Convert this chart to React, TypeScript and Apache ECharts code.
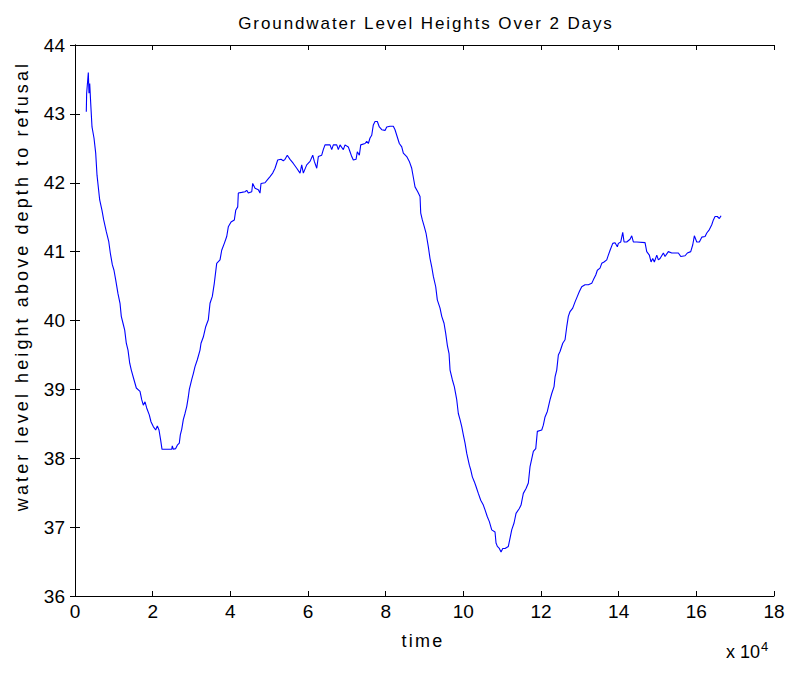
import React, { useEffect, useRef } from "react";
import * as echarts from "echarts";

const title = "Groundwater Level Heights Over 2 Days";
const xAxisName = "time";
const yAxisName = "water level height above depth to refusal";
const xTicks = [0, 20000, 40000, 60000, 80000, 100000, 120000, 140000, 160000, 180000];
const yTicks = [36, 37, 38, 39, 40, 41, 42, 43, 44];

const time = [
  2910, 3000, 3430, 3600, 3790, 4040, 4380, 4890, 5330, 5670, 6360, 6950, 7390, 8060, 8680, 9090, 9610,
  10040, 10480, 11070, 11590, 11920, 12360, 12800, 13210, 13650, 14090, 14500, 15190, 15790, 16740,
  17180, 17590, 18030, 18460, 19130, 19570, 20160, 20780, 21200, 21630, 22070, 22410, 24900, 25060,
  25320, 25930, 26350, 26860, 27120, 27480, 27890, 28330, 28770, 29180, 29440, 30050, 30470, 30900,
  31500, 32190, 32450, 33040, 33660, 34330, 34770, 35360, 35870, 36490, 37340, 37780, 38450, 39070,
  39480, 40180, 41030, 41390, 41900, 42060, 42930, 43780, 44220, 44630, 45510, 45760, 46360, 47210,
  47640, 47900, 48930, 49630, 50220, 50910, 51510, 52200, 53050, 53640, 54080, 54670, 55370, 56220,
  57100, 57950, 58380, 58800, 59670, 60520, 61220, 61630, 62250, 62660, 63530, 63940, 64380, 65670,
  66110, 66520, 67400, 67810, 68250, 69100, 69530, 70380, 70820, 71260, 71670, 72370, 72700, 73220,
  73580, 74690, 75120, 75540, 75970, 76410, 76820, 77260, 77850, 78370, 78990, 79840, 80270, 81120,
  81970, 82410, 82850, 83520, 84140, 84550, 85420, 86090, 86710, 87120, 87560, 88260, 88850, 89030,
  89440, 89960, 90390, 90990, 91420, 91860, 92280, 92890, 93300, 94000, 94440, 95030, 95470, 95880,
  96320, 96580, 97170, 97680, 98300, 98710, 99150, 99590, 100000, 100440, 100880, 101550, 101910,
  102320, 102830, 103270, 103860, 104480, 105150, 105590, 106180, 106700, 107310, 108160, 108420,
  108760, 109270, 109710, 110150, 110740, 111590, 112030, 112460, 113060, 113570, 114420, 114860,
  115450, 116150, 116740, 117180, 118030, 118650, 119060, 120190, 120600, 121040, 121630, 122330,
  122770, 123360, 123620, 124050, 124470, 124900, 125600, 126190, 126630, 127040, 127480, 128170,
  128770, 129360, 129880, 130490, 131340, 132190, 133070, 133480, 134100, 134510, 135200, 135640,
  136230, 136930, 137340, 137790, 138480, 139070, 139660, 139920, 140540, 141050, 141390, 142080,
  142930, 143370, 143780, 144660, 146790, 147230, 147900, 148340, 148770, 149190, 149810, 150220,
  150660, 151510, 151940, 152790, 153670, 155370, 155990, 157100, 157690, 158560, 159080, 159490,
  160110, 160780, 161400, 162250, 162690, 163360, 163970, 164390, 164820, 165410, 165930, 166370,
];

const level = [
  43.03, 43.3, 43.6, 43.3, 43.44, 43.16, 42.81, 42.65, 42.43, 42.11, 41.75, 41.6, 41.46, 41.29, 41.15, 40.98, 40.81,
  40.73, 40.59, 40.39, 40.25, 40.06, 39.96, 39.86, 39.67, 39.57, 39.38, 39.28, 39.14, 39.02, 38.97,
  38.85, 38.77, 38.82, 38.73, 38.63, 38.53, 38.46, 38.41, 38.47, 38.41, 38.26, 38.13, 38.13, 38.18,
  38.13, 38.14, 38.19, 38.22, 38.34, 38.42, 38.56, 38.65, 38.75, 38.89, 39.0, 39.14, 39.23, 39.33,
  39.43, 39.57, 39.67, 39.76, 39.91, 40.01, 40.25, 40.35, 40.54, 40.83, 40.88, 41.02, 41.12, 41.22,
  41.36, 41.43, 41.46, 41.6, 41.65, 41.85, 41.86, 41.87, 41.89, 41.85, 41.87, 41.99, 41.92, 41.9,
  41.85, 41.99, 42.0, 42.05, 42.09, 42.14, 42.21, 42.33, 42.34, 42.32, 42.34, 42.4, 42.34, 42.28,
  42.21, 42.14, 42.26, 42.14, 42.26, 42.31, 42.4, 42.31, 42.21, 42.38, 42.4, 42.48, 42.55, 42.55,
  42.48, 42.55, 42.55, 42.48, 42.55, 42.48, 42.55, 42.52, 42.45, 42.38, 42.33, 42.34, 42.45, 42.4,
  42.55, 42.57, 42.6, 42.57, 42.65, 42.69, 42.84, 42.89, 42.89, 42.81, 42.77, 42.76, 42.81, 42.82,
  42.82, 42.77, 42.69, 42.57, 42.52, 42.43, 42.38, 42.31, 42.21, 42.08, 41.94, 41.87, 41.8, 41.56,
  41.46, 41.36, 41.27, 41.07, 40.9, 40.78, 40.64, 40.49, 40.3, 40.18, 40.06, 39.96, 39.81, 39.64,
  39.52, 39.28, 39.14, 39.04, 38.85, 38.65, 38.56, 38.46, 38.34, 38.22, 38.07, 37.9, 37.83,
  37.73, 37.66, 37.59, 37.49, 37.39, 37.32, 37.25, 37.15, 37.08, 36.96, 36.93, 36.77,
  36.72, 36.69, 36.64, 36.69, 36.69, 36.72, 36.84, 36.96, 37.06, 37.2, 37.27, 37.32,
  37.49, 37.56, 37.64, 37.88, 38.1, 38.14, 38.39, 38.41, 38.48, 38.6, 38.68, 38.85,
  38.94, 39.04, 39.18, 39.28, 39.5, 39.55, 39.67, 39.72, 39.91, 40.06, 40.13, 40.18,
  40.27, 40.35, 40.42, 40.49, 40.52, 40.52, 40.54, 40.59, 40.66, 40.73, 40.76, 40.83,
  40.85, 40.88, 40.95, 41.02, 41.12, 41.13, 41.07, 41.12, 41.14, 41.28, 41.14, 41.14,
  41.18, 41.23, 41.14, 41.14, 41.13, 41.0, 40.95, 40.85, 40.9, 40.85, 40.95, 40.88,
  40.9, 40.98, 40.93, 41.0, 40.98, 40.98, 40.93, 40.94, 40.98, 41.0, 41.1, 41.23,
  41.14, 41.14, 41.21, 41.22, 41.27, 41.32, 41.39, 41.46, 41.51, 41.51, 41.48, 41.52,
];

const FONT = "Liberation Sans, Arial, sans-serif";

const spacing: Record<string, number> = {
  [title]: 1.9,
  [yAxisName]: 3.1,
  [xAxisName]: 2.2,
};

function applySpacing(root: HTMLElement | null) {
  if (!root) return;
  root.querySelectorAll("text").forEach((el) => {
    const s = spacing[el.textContent || ""];
    if (s) el.setAttribute("letter-spacing", String(s));
  });
}

export default function App() {
  const ref = useRef<HTMLDivElement>(null);
  useEffect(() => {
    if (!ref.current) return;
    const chart = echarts.init(ref.current, null, { renderer: "svg" });
    const data = time.map((t, i) => [t, level[i]]);
    const axisCommon = {
      axisLine: { show: true, lineStyle: { color: "#000", width: 1 } },
      axisTick: { show: true, inside: true, length: 5, lineStyle: { color: "#000" } },
      splitLine: { show: false },
    };
    chart.on("finished", () => applySpacing(ref.current));
    chart.setOption({
      animation: false,
      backgroundColor: "#fff",
      title: {
        text: title,
        left: 421,
        top: 10,
        textAlign: "center",
        textStyle: { fontFamily: FONT, fontSize: 17, fontWeight: "normal", color: "#000" },
      },
      grid: { left: 75, top: 45, width: 699, height: 551, containLabel: false, outerBoundsMode: "none" },
      xAxis: [
        {
          type: "value",
          min: xTicks[0],
          max: xTicks[xTicks.length - 1],
          interval: xTicks[1] - xTicks[0],
          position: "bottom",
          ...axisCommon,
          axisLabel: {
            color: "#000",
            fontFamily: FONT,
            fontSize: 19,
            margin: 6,
            formatter: (v: number) => String(v / 10000),
          },
          name: xAxisName,
          nameLocation: "middle",
          nameGap: 36,
          nameTextStyle: { color: "#000", fontFamily: FONT, fontSize: 18, padding: [0, 3, 0, 0] },
        },
        {
          type: "value",
          min: xTicks[0],
          max: xTicks[xTicks.length - 1],
          interval: xTicks[1] - xTicks[0],
          position: "top",
          ...axisCommon,
          axisLabel: { show: false },
        },
      ],
      yAxis: [
        {
          type: "value",
          min: yTicks[0],
          max: yTicks[yTicks.length - 1],
          interval: 1,
          position: "left",
          ...axisCommon,
          axisLabel: { color: "#000", fontFamily: FONT, fontSize: 19, margin: 10 },
        },
        {
          type: "value",
          min: yTicks[0],
          max: yTicks[yTicks.length - 1],
          interval: 1,
          position: "right",
          ...axisCommon,
          axisLabel: { show: false },
        },
      ],
      graphic: [
        {
          type: "text",
          x: 22,
          y: 286,
          rotation: Math.PI / 2,
          style: {
            text: yAxisName,
            fontFamily: FONT,
            fontSize: 18,
            fill: "#000",
            textAlign: "center",
            textVerticalAlign: "middle",
          },
        },
        {
          type: "text",
          left: 726,
          top: 640,
          style: {
            text: "x 10{s|4}",
            fontFamily: FONT,
            fontSize: 18,
            fill: "#000",
            rich: { s: { fontSize: 13, verticalAlign: "top", padding: [0, 0, 10, 1], fontFamily: FONT } },
          },
        },
      ],
      series: [
        {
          type: "line",
          data,
          showSymbol: false,
          lineStyle: { color: "#0000ff", width: 1.1 },
          itemStyle: { color: "#0000ff" },
        },
      ],
    });
    applySpacing(ref.current);
    const raf = requestAnimationFrame(() => applySpacing(ref.current));
    return () => {
      cancelAnimationFrame(raf);
      chart.dispose();
    };
  }, []);
  return (
    <div
      ref={ref}
      style={{ position: "fixed", left: 0, top: 0, width: 793, height: 676, background: "#fff" }}
    />
  );
}
